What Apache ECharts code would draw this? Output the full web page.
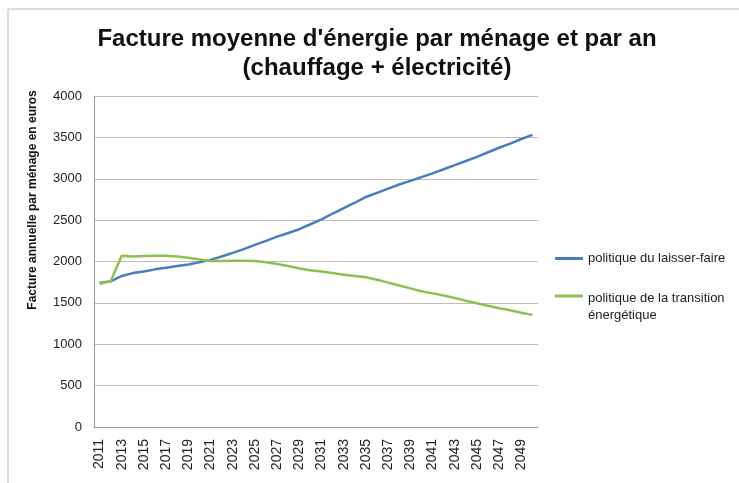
<!DOCTYPE html>
<html>
<head>
<meta charset="utf-8">
<script src="https://cdn.jsdelivr.net/npm/echarts@6/dist/echarts.min.js"></script>
<style>
  html, body { margin: 0; padding: 0; background: #fff; }
  #chart { width: 739px; height: 483px; }
</style>
</head>
<body>
<div id="chart"></div>
<script>
// annees 2011 -> 2050
var years = [];
for (var y = 2011; y <= 2050; y++) { years.push(String(y)); }

// politique du laisser-faire
var laisserFaire = [
  1740, 1760, 1825, 1860, 1880, 1905, 1925, 1945, 1965, 1990,
  2020, 2060, 2105, 2150, 2200, 2250, 2300, 2345, 2390, 2450,
  2510, 2580, 2645, 2710, 2780, 2830, 2880, 2930, 2975, 3020,
  3065, 3115, 3165, 3215, 3265, 3320, 3375, 3425, 3480, 3530
];

// politique de la transition energetique
var transition = [
  1730, 1760, 2070, 2060, 2065, 2070, 2070, 2060, 2045, 2025,
  2005, 2005, 2010, 2010, 2005, 1990, 1970, 1945, 1915, 1895,
  1880, 1860, 1840, 1825, 1810, 1780, 1745, 1710, 1675, 1640,
  1615, 1590, 1560, 1525, 1495, 1465, 1435, 1410, 1380, 1355
];

var seriesNames = ['politique du laisser-faire', 'politique de la transition énergétique'];

var chart = echarts.init(document.getElementById('chart'));

var option = {
  backgroundColor: '#fff',
  animation: false,
  textStyle: { fontFamily: 'Liberation Sans, Arial, sans-serif' },
  title: {
    text: "Facture moyenne d'énergie par ménage et par an\n(chauffage + électricité)",
    left: 377,
    top: 25,
    padding: 0,
    textAlign: 'center',
    textStyle: { fontSize: 24, fontWeight: 'bold', color: '#111', lineHeight: 29 }
  },
  graphic: [
    // cadre de l'image
    { type: 'line', shape: { x1: 8, y1: 9, x2: 739, y2: 9 }, style: { stroke: '#b8b8b8', lineWidth: 1 } },
    { type: 'line', shape: { x1: 8, y1: 9, x2: 8, y2: 483 }, style: { stroke: '#b8b8b8', lineWidth: 1 } },
    {
      type: 'text',
      x: 33, y: 200,
      rotation: Math.PI / 2,
      style: {
        text: 'Facture annuelle par ménage en euros',
        font: 'bold 12px Liberation Sans, Arial, sans-serif',
        fill: '#111',
        align: 'center',
        verticalAlign: 'middle'
      }
    }
  ],
  legend: {
    orient: 'vertical',
    left: 555,
    top: 250,
    padding: 0,
    itemWidth: 28,
    itemHeight: 3,
    itemGap: 1,
    icon: 'rect',
    data: seriesNames,
    formatter: function (name) {
      // ligne vide en tete pour aligner le trait sur la premiere ligne
      return name === seriesNames[1] ? '{e| }\npolitique de la transition\nénergétique' : name;
    },
    textStyle: {
      fontSize: 13, color: '#222', lineHeight: 17,
      rich: { e: { fontSize: 1, lineHeight: 22 } }
    }
  },
  grid: { left: 94, right: 201, top: 96, bottom: 56 },
  xAxis: {
    type: 'category',
    data: years,
    boundaryGap: true,
    axisLine: { lineStyle: { color: '#999', width: 1 } },
    axisTick: { show: false },
    axisLabel: { rotate: 90, interval: 1, fontSize: 14, color: '#222', margin: 12 }
  },
  yAxis: {
    type: 'value',
    min: 0,
    max: 4000,
    interval: 500,
    axisLine: { show: true, lineStyle: { color: '#999', width: 1 } },
    axisTick: { show: false },
    axisLabel: { fontSize: 13, color: '#222', margin: 12, formatter: function (v) { return String(v); } },
    splitLine: { lineStyle: { color: '#c4bcbc', width: 1 } }
  },
  series: [
    {
      name: seriesNames[0],
      type: 'line',
      data: laisserFaire,
      showSymbol: false,
      symbol: 'none',
      lineStyle: { color: '#4a7ebb', width: 2.5 },
      itemStyle: { color: '#4a7ebb' }
    },
    {
      name: seriesNames[1],
      type: 'line',
      data: transition,
      showSymbol: false,
      symbol: 'none',
      lineStyle: { color: '#8cc152', width: 2.5 },
      itemStyle: { color: '#8cc152' }
    }
  ]
};

chart.setOption(option);
</script>
</body>
</html>
